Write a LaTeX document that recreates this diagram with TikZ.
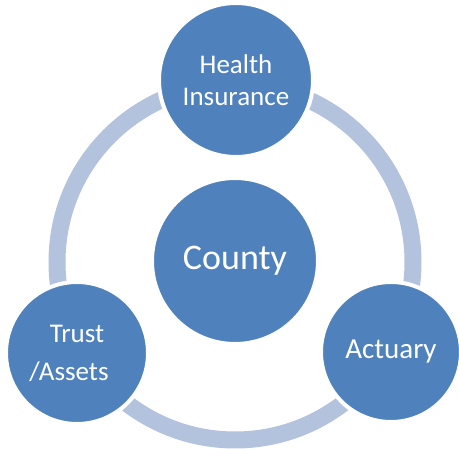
\documentclass[tikz,border=0pt]{standalone}
\usepackage{fontspec}
\setmainfont{Carlito}
\definecolor{nodeblue}{HTML}{4F81BD}
\definecolor{ringblue}{HTML}{B3C2DD}
\begin{document}
\begin{tikzpicture}[x=1pt, y=1pt,
        hub/.style={circle, fill=nodeblue, draw=white, line width=4pt, inner sep=0pt, minimum size=166pt, text=white, font=\fontsize{36}{40}\selectfont},
        member/.style={circle, fill=nodeblue, draw=white, line width=4pt, inner sep=0pt, text=white, align=center, font=\fontsize{27}{32}\selectfont},
        ring/.style={draw=ringblue, line width=17pt}
    ]
        \useasboundingbox (0,0) rectangle (459,449);

        % ring behind the nodes
        \coordinate (ring_center) at (235,187);
        \draw[ring] (ring_center) circle (178);

        % center
        \node[hub] (county) at (235,188) {County};

        % members around the ring
        \node[member, minimum size=154pt] (health) at (236,369) {Health\\Insurance};
        \node[member, minimum size=142pt, font=\fontsize{27}{38}\selectfont] (trust) at (77,96) {Trust\\\hspace*{-16pt}/Assets};
        \node[member, minimum size=140pt, font=\fontsize{29}{32}\selectfont] (actuary) at (391,97) {Actuary};

    \end{tikzpicture}
\end{document}
